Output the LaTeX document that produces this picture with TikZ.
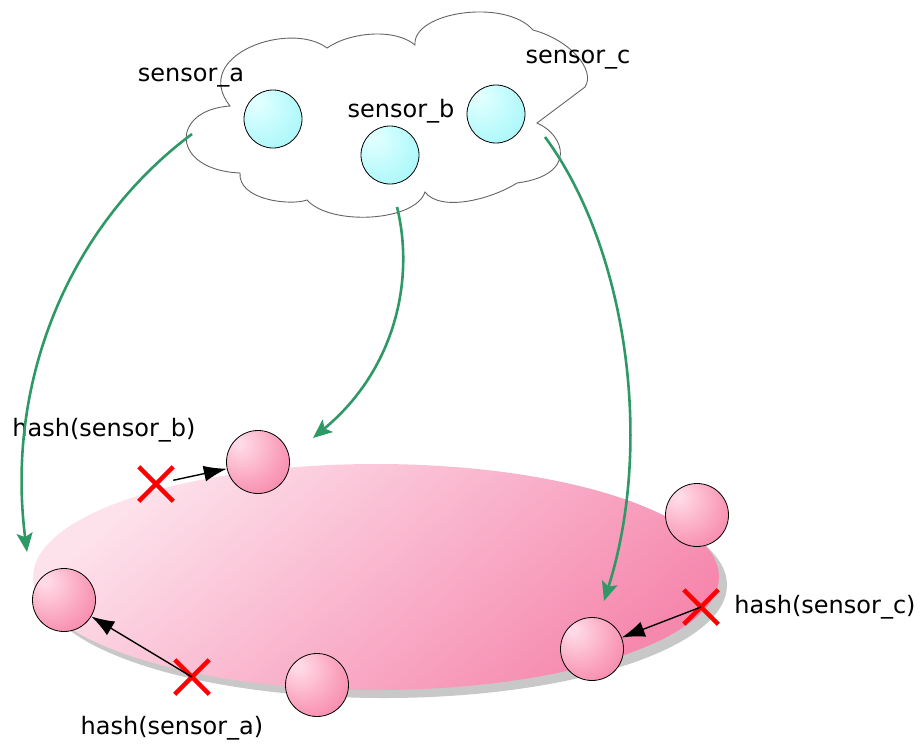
\documentclass[tikz,border=0pt]{standalone}
\usepackage{fontspec}
\setmainfont{DejaVu Sans}
\usetikzlibrary{arrows.meta,shapes.misc}
\definecolor{cyanA}{RGB}{225,255,255}
\definecolor{cyanM}{RGB}{185,250,252}
\definecolor{cyanB}{RGB}{155,243,247}
\definecolor{pinkA}{RGB}{255,218,230}
\definecolor{pinkM}{RGB}{250,160,188}
\definecolor{pinkB}{RGB}{245,112,154}
\definecolor{ringA}{RGB}{253,226,236}
\definecolor{ringM}{RGB}{249,172,197}
\definecolor{ringB}{RGB}{246,136,174}
\definecolor{grn}{RGB}{46,152,102}
\definecolor{shadowgray}{RGB}{200,200,200}
\definecolor{cloudline}{RGB}{100,100,100}
\pgfdeclareradialshading{cyanball}{\pgfpoint{-16bp}{16bp}}{color(0bp)=(cyanA);color(3bp)=(cyanA);color(28bp)=(cyanM);color(50bp)=(cyanB);color(80bp)=(cyanB)}
\pgfdeclareradialshading{pinkball}{\pgfpoint{-16bp}{16bp}}{color(0bp)=(pinkA);color(3bp)=(pinkA);color(28bp)=(pinkM);color(52bp)=(pinkB);color(80bp)=(pinkB)}
\begin{document}
\begin{tikzpicture}[x=1pt,y=-1pt,
  lbl/.style={font=\fontsize{24}{28}\selectfont, inner sep=0pt},
  sensorball/.style={circle, draw=black, line width=0.8pt, minimum size=58pt, inner sep=0pt, shading=cyanball},
  nodeball/.style={circle, draw=black, line width=0.8pt, minimum size=63pt, inner sep=0pt, shading=pinkball},
  redx/.style={cross out, draw=red, line width=4.5pt, minimum size=30pt, inner sep=0pt},
  blk/.style={draw=black, line width=1.4pt, -{Latex[length=23pt,width=16pt]}},
  grarrow/.style={draw=grn, line width=2.6pt, -{Stealth[length=19pt,width=16pt,inset=4pt]}}
]
\useasboundingbox (0,0) rectangle (920,744);
% ring
\fill[shadowgray] (384,585) ellipse [x radius=343pt, y radius=113pt];
\shade[top color=ringA, middle color=ringM, bottom color=ringB, shading angle=40] (376,577) ellipse [x radius=343pt, y radius=113pt];
% cloud
\draw[cloudline, line width=0.9pt, fill=white]
  (230,106) .. controls (190,55) and (290,20) .. (327,48)
  .. controls (350,32) and (395,28) .. (415,45)
  .. controls (412,12) and (505,-2) .. (533,30)
  .. controls (570,40) and (596,70) .. (585,87)
  -- (537,123)
  .. controls (565,135) and (578,175) .. (517,183)
  .. controls (490,200) and (440,212) .. (425,192)
  .. controls (415,222) and (330,226) .. (307,200)
  .. controls (290,206) and (238,200) .. (240,173)
  .. controls (170,170) and (170,110) .. (230,106) -- cycle;
% sensors
\node[sensorball] (sa) at (273,119) {};
\node[sensorball] (sb) at (390,155) {};
\node[sensorball] (sc) at (496,114) {};
\node[lbl] (la) at (191,78) {sensor\_a};
\node[lbl] (lb) at (401,111) {sensor\_b};
\node[lbl] (lc) at (578,60) {sensor\_c};
% ring nodes
\node[nodeball] (n1) at (258,462) {};
\node[nodeball] (n2) at (64,600) {};
\node[nodeball] (n3) at (317,685) {};
\node[nodeball] (n4) at (697,515) {};
\node[nodeball] (n5) at (592,649) {};
% crosses
\node[redx] (xb) at (156,484) {};
\node[redx] (xa) at (192,677) {};
\node[redx] (xc) at (701,607) {};
\node[lbl] (hb) at (104,430) {hash(sensor\_b)};
\node[lbl] (ha) at (172,728) {hash(sensor\_a)};
\node[lbl] (hc) at (825,607) {hash(sensor\_c)};
% black arrows
\draw[blk] (xb) -- (n1);
\draw[blk] (xa.center) -- (n2);
\draw[blk] (xc.center) -- (n5);
% green arrows
\coordinate (ga0) at (192,134);
\coordinate (ga1) at (27,552);
\coordinate (gb0) at (397,207);
\coordinate (gb1) at (313,438);
\coordinate (gc0) at (545,137);
\coordinate (gc1) at (604,601);
\draw[grarrow] (ga0) .. controls (70,225) and (5,380) .. (ga1);
\draw[grarrow] (gb0) .. controls (415,280) and (395,370) .. (gb1);
\draw[grarrow] (gc0) .. controls (625,245) and (655,440) .. (gc1);
\end{tikzpicture}
\end{document}
